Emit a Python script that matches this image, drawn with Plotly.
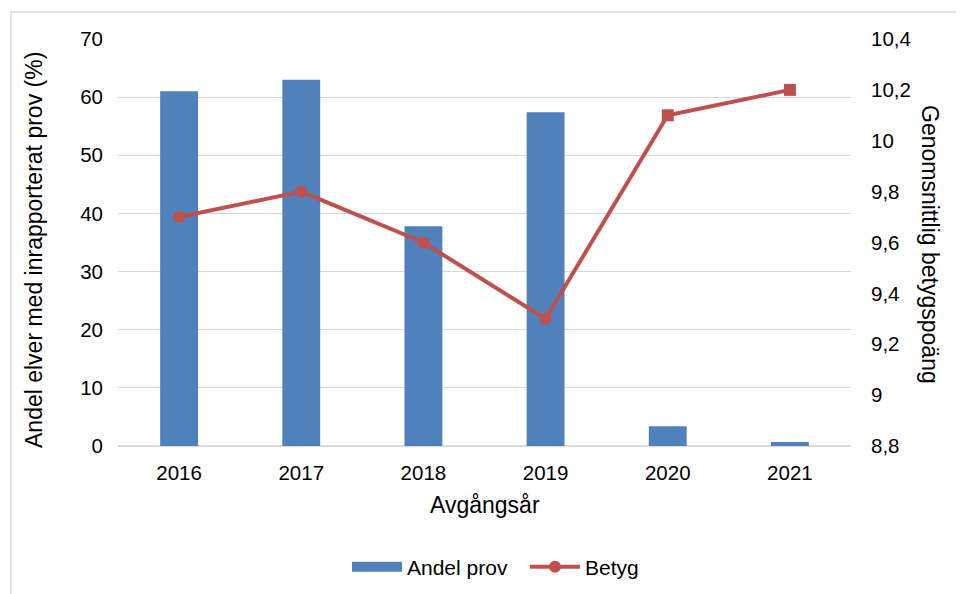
import plotly.graph_objects as go

years = ["2016", "2017", "2018", "2019", "2020", "2021"]
andel_prov = [61.0, 63.0, 37.8, 57.4, 3.4, 0.7]
betyg = [9.7, 9.8, 9.6, 9.3, 10.1, 10.2]
betyg_symbols = ["circle", "circle", "circle", "circle", "square", "square"]
left_ticks = [0, 10, 20, 30, 40, 50, 60, 70]
right_ticks = [8.8, 9.0, 9.2, 9.4, 9.6, 9.8, 10.0, 10.2, 10.4]
right_ticktext = ["8,8", "9", "9,2", "9,4", "9,6", "9,8", "10", "10,2", "10,4"]

BLUE = "#4F81BD"
RED = "#C0504D"
FONT = "Liberation Sans, Arial, sans-serif"
TICK = 20.5
TITLE = 23

# page body margin offset
OFF = 8
W, H = 964, 594
# desired plot area in screen pixels
SL, ST, SR, SB = 118, 39, 851, 446
L, T = SL - OFF, ST - OFF
R, B = W - (SR - OFF), H - (SB - OFF)
pw, ph = SR - SL, SB - ST


def px(x):
    return (x - SL) / pw


def py(y):
    return (SB - y) / ph


fig = go.Figure()
fig.add_trace(go.Bar(
    x=years, y=andel_prov, name="Andel prov", showlegend=False,
    marker=dict(color=BLUE, line=dict(width=0)), width=0.31,
))
fig.add_trace(go.Scatter(
    x=[None], y=[None], name="Andel prov", mode="lines",
    line=dict(color=BLUE, width=14),
))
fig.add_trace(go.Scatter(
    x=years, y=betyg, name="Betyg", yaxis="y2", mode="lines+markers",
    line=dict(color=RED, width=4),
    marker=dict(color=RED, size=12, symbol=betyg_symbols),
))

fig.update_layout(
    width=W, height=H,
    margin=dict(l=L, r=R, t=T, b=B, pad=0),
    paper_bgcolor="white", plot_bgcolor="white",
    font=dict(family=FONT, size=TICK, color="#000000"),
    showlegend=True,
    legend=dict(orientation="h", x=px(347), xanchor="left", y=py(567), yanchor="middle",
                font=dict(size=21), itemwidth=50, tracegroupgap=0,
                entrywidth=113, entrywidthmode="pixels"),
    xaxis=dict(
        type="category", showgrid=False, showline=False, ticks="",
        ticklabelstandoff=12, tickfont=dict(size=TICK),
        range=[-0.5, 5.5],
    ),
    yaxis=dict(
        range=[0, 70], tickvals=left_ticks, showgrid=True, gridcolor="#D9D9D9",
        gridwidth=1.3, zeroline=True, zerolinecolor="#D9D9D9", zerolinewidth=1.5,
        showline=False, ticks="", ticklabelstandoff=14, tickfont=dict(size=TICK),
    ),
    yaxis2=dict(
        range=[8.8, 10.4], tickvals=right_ticks, ticktext=right_ticktext,
        overlaying="y", side="right", showgrid=False, zeroline=False,
        showline=False, ticks="", ticklabelstandoff=19, tickfont=dict(size=TICK),
    ),
    annotations=[
        dict(text="Andel elver med inrapporterat prov (%)", x=px(34), y=py(250),
             xref="paper", yref="paper", textangle=-90, showarrow=False,
             font=dict(size=TITLE), xanchor="center", yanchor="middle"),
        dict(text="Genomsnittlig betygspoäng", x=px(930), y=py(244),
             xref="paper", yref="paper", textangle=90, showarrow=False,
             font=dict(size=TITLE), xanchor="center", yanchor="middle"),
        dict(text="Avgångsår", x=px(485), y=py(505),
             xref="paper", yref="paper", showarrow=False,
             font=dict(size=TITLE), xanchor="center", yanchor="middle"),
    ],
    shapes=[
        dict(type="rect", xref="paper", yref="paper",
             x0=px(11), x1=px(985), y0=py(620), y1=py(12),
             line=dict(color="#D9D9D9", width=1.5), fillcolor="rgba(0,0,0,0)", layer="below"),
    ],
)

fig.write_html("out.html")
